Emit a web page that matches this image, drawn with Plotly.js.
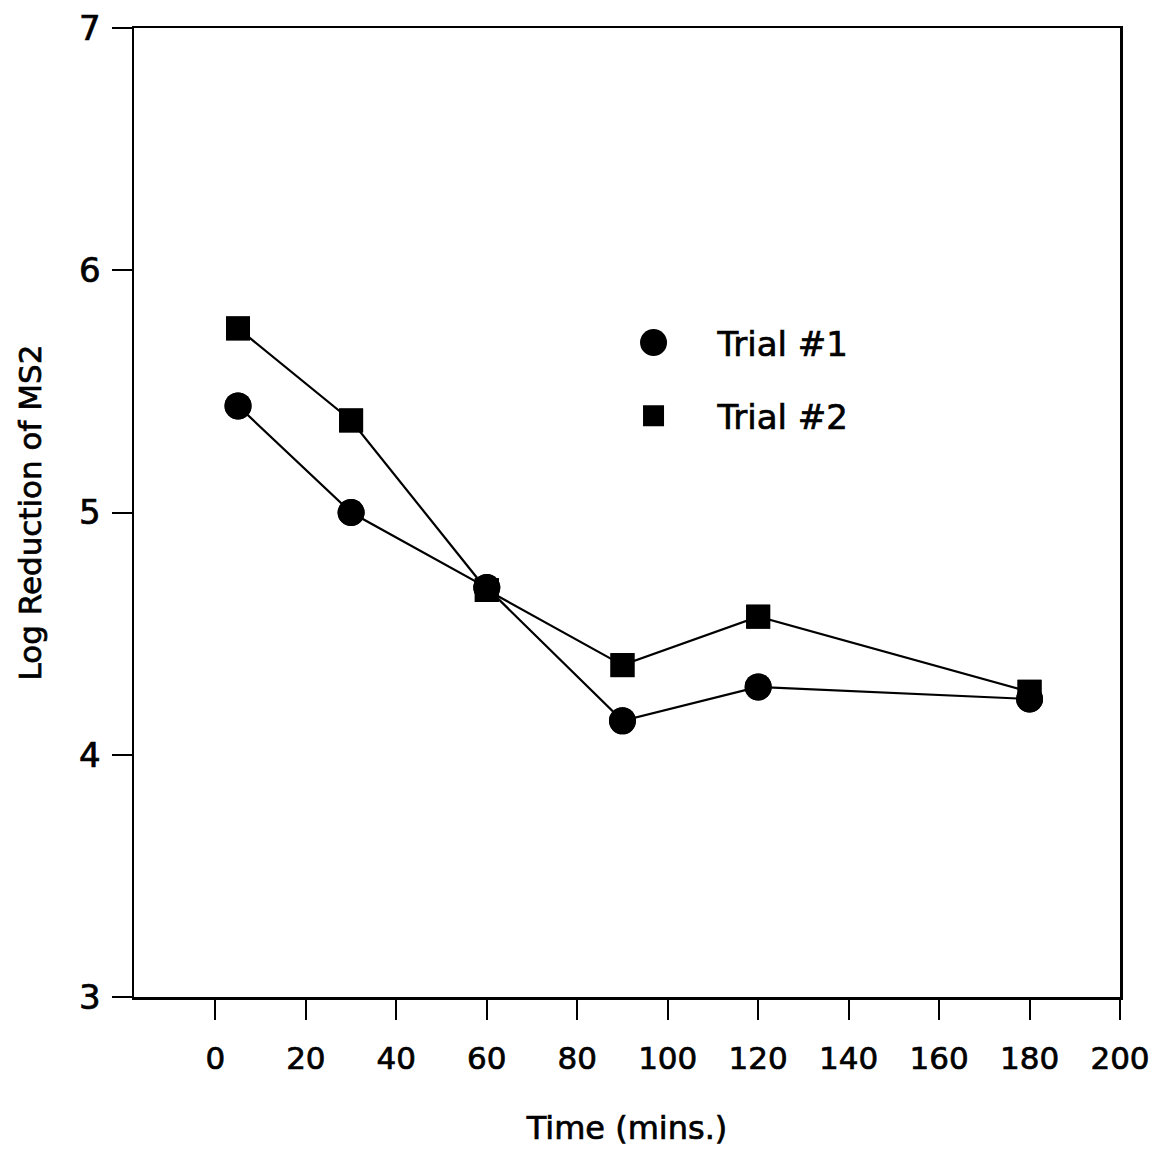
<!DOCTYPE html>
<html><head><meta charset="utf-8">
<script src="https://cdn.plot.ly/plotly-3.0.1.min.js"></script>
<style>
html,body{margin:0;padding:0;background:#fff}
.main-svg text{stroke:#000;stroke-width:0.7px}
</style>
</head><body>
<div id="chart" style="width:1158px;height:1152px"></div>
<script>
// ---- data ----
const timeMins = [5, 30, 60, 90, 120, 180];
const trial1 = [5.44, 5.00, 4.69, 4.14, 4.28, 4.23];
const trial2 = [5.76, 5.38, 4.68, 4.37, 4.57, 4.26];
const seriesNames = ['Trial #1', 'Trial #2'];
const xTickVals = [0, 20, 40, 60, 80, 100, 120, 140, 160, 180, 200];
const yTickVals = [3, 4, 5, 6, 7];
const xTitle = 'Time (mins.)';
const yTitle = 'Log Reduction of MS2';

const FONT = 'DejaVu Sans, Liberation Sans, Arial, sans-serif';
const lineStyle = {color: '#000', width: 2.2};

const traces = [
  {x: timeMins, y: trial1, mode: 'lines+markers', showlegend: false, hoverinfo: 'skip',
   line: lineStyle, marker: {symbol: 'circle', size: 27, color: '#000'}},
  {x: timeMins, y: trial2, mode: 'lines+markers', showlegend: false, hoverinfo: 'skip',
   line: lineStyle, marker: {symbol: 'square', size: 24, color: '#000'}},
  {x: timeMins, y: trial1, mode: 'markers', name: seriesNames[0], legendgroup: 'a',
   marker: {symbol: 'circle', size: 27, color: '#000'}},
  {x: timeMins, y: trial2, mode: 'markers', name: seriesNames[1], legendgroup: 'b',
   marker: {symbol: 'square', size: 24, color: '#000'}}
];

const axisCommon = {
  ticks: 'outside', ticklen: 20, tickwidth: 2, tickcolor: '#000',
  showline: true, linewidth: 2.5, linecolor: '#000', mirror: true,
  showgrid: false, zeroline: false, automargin: false
};

const layout = {
  width: 1158, height: 1152,
  margin: {l: 134, r: 38, t: 28, b: 155},
  paper_bgcolor: '#fff', plot_bgcolor: '#fff',
  font: {family: FONT, color: '#000'},
  xaxis: Object.assign({}, axisCommon, {
    range: [-18, 200], tickmode: 'array', tickvals: xTickVals,
    tickfont: {family: FONT, size: 31, color: '#000'},
    ticklabelstandoff: 12,
    title: {text: xTitle, font: {family: FONT, size: 32, color: '#000'}, standoff: 42}
  }),
  yaxis: Object.assign({}, axisCommon, {
    range: [3, 7], tickmode: 'array', tickvals: yTickVals,
    tickfont: {family: FONT, size: 34, color: '#000'},
    ticklabelstandoff: 4,
    title: {text: yTitle, font: {family: FONT, size: 31, color: '#000'}, standoff: 28}
  }),
  showlegend: true,
  legend: {
    x: 0.462, y: 0.705, xanchor: 'left', yanchor: 'top',
    bgcolor: 'rgba(0,0,0,0)', borderwidth: 0,
    font: {family: FONT, size: 34, color: '#000'},
    itemwidth: 118, tracegroupgap: 26
  }
};

Plotly.newPlot('chart', traces, layout, {displayModeBar: false, staticPlot: true}).then(function () {
  // enlarge legend symbols to match the printed legend
  const targets = [27, 21];
  document.querySelectorAll('.legend .traces').forEach(function (g, i) {
    g.querySelectorAll('path.scatterpts').forEach(function (p) {
      const bb = p.getBBox();
      if (bb.width > 0) {
        const s = targets[i] / bb.width;
        const t = p.getAttribute('transform') || '';
        p.setAttribute('transform', t + ' scale(' + s + ')');
      }
    });
  });
});
</script>
</body></html>
